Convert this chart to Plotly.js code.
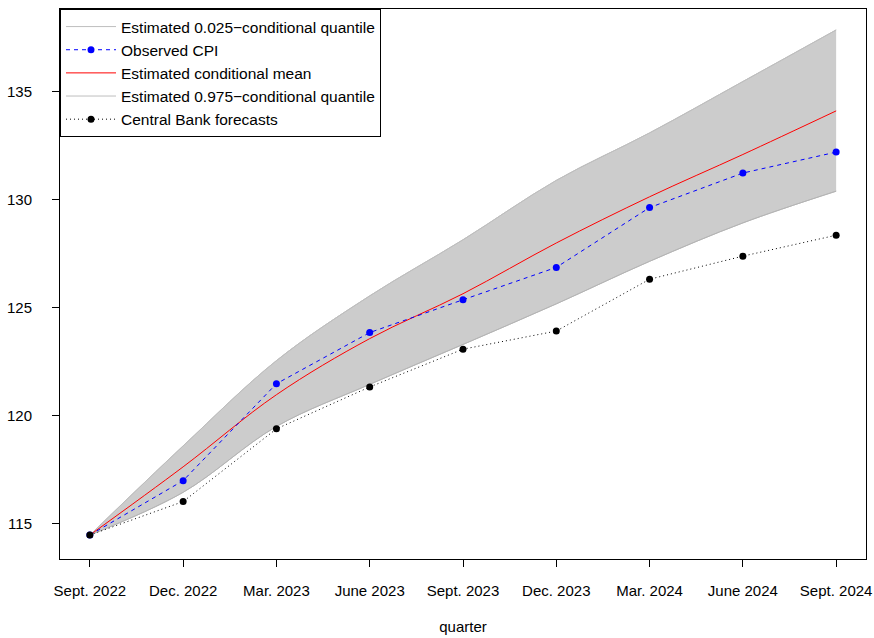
<!DOCTYPE html>
<html>
<head>
<meta charset="utf-8">
<script src="https://cdn.plot.ly/plotly-3.0.1.min.js"></script>
<style>html,body{margin:0;padding:0;background:#fff;}#chart{width:874px;height:638px;}</style>
</head>
<body>
<div id="chart"></div>
<script>
var quarters = ["Sept. 2022","Dec. 2022","Mar. 2023","June 2023","Sept. 2023","Dec. 2023","Mar. 2024","June 2024","Sept. 2024"];
var observedCPI = [114.47,116.99,121.48,123.85,125.37,126.87,129.64,131.24,132.21];
var condMean    = [114.47,117.63,120.97,123.57,125.65,128.0,130.14,132.1,134.12];
var q025        = [114.47,116.45,119.5,121.45,123.3,125.18,127.15,128.93,130.4];
var q975        = [114.47,118.6,122.55,125.55,128.15,130.9,133.1,135.48,137.87];
var cbForecast  = [114.47,116.02,119.39,121.33,123.08,123.92,126.32,127.39,128.36];

var font = "Liberation Sans, Arial, Helvetica, sans-serif";
var traces = [
  {x: quarters, y: q025, type: "scatter", mode: "lines", name: "Estimated 0.025\u2212conditional quantile",
   line: {color: "#BEBEBE", width: 1, shape: "spline"}, legendrank: 1},
  {x: quarters, y: q975, type: "scatter", mode: "lines", name: "band",
   line: {color: "#BEBEBE", width: 1, shape: "spline"}, fill: "tonexty", fillcolor: "#CCCCCC", showlegend: false},
  {x: quarters, y: q975, type: "scatter", mode: "lines", name: "Estimated 0.975\u2212conditional quantile",
   line: {color: "#BEBEBE", width: 1, shape: "spline"}, legendrank: 4},
  {x: quarters, y: q025, type: "scatter", mode: "lines", name: "lower edge",
   line: {color: "#B4B4B4", width: 1, shape: "spline"}, showlegend: false},
  {x: quarters, y: condMean, type: "scatter", mode: "lines", name: "Estimated conditional mean",
   line: {color: "red", width: 1, shape: "spline"}, legendrank: 3},
  {x: quarters, y: observedCPI, type: "scatter", mode: "lines+markers", name: "Observed CPI",
   line: {color: "blue", width: 1, dash: "4px,4px"}, marker: {color: "blue", size: 7}, legendrank: 2},
  {x: quarters, y: cbForecast, type: "scatter", mode: "lines+markers", name: "Central Bank forecasts",
   line: {color: "black", width: 1, dash: "1px,3px"}, marker: {color: "black", size: 7}, legendrank: 5}
];

var layout = {
  width: 874, height: 638,
  margin: {l: 60, r: 8, t: 9, b: 79},
  paper_bgcolor: "#fff", plot_bgcolor: "#fff",
  font: {family: font, size: 15, color: "#000"},
  showlegend: true,
  legend: {x: 0, y: 1, xanchor: "left", yanchor: "top", bgcolor: "#fff", bordercolor: "#000", borderwidth: 1,
           font: {family: font, size: 15.5}, traceorder: "normal", tracegroupgap: 0, itemwidth: 50},
  xaxis: {type: "category", categoryorder: "array", categoryarray: quarters,
          range: [-0.32, 8.32], showgrid: false, zeroline: false,
          showline: true, mirror: true, linecolor: "#000", linewidth: 1,
          ticks: "outside", ticklen: 7, tickcolor: "#000", tickwidth: 1,
          tickfont: {family: font, size: 15}, ticklabelstandoff: 11,
          title: {text: "quarter", font: {family: font, size: 15}, standoff: 23}},
  yaxis: {range: [113.36, 138.84], tickvals: [115,120,125,130,135], showgrid: false, zeroline: false,
          showline: true, mirror: true, linecolor: "#000", linewidth: 1,
          ticks: "outside", ticklen: 7, tickcolor: "#000", tickwidth: 1,
          tickfont: {family: font, size: 15}, ticklabelstandoff: 17}
};
Plotly.newPlot("chart", traces, layout, {displayModeBar: false, staticPlot: true});
</script>
</body>
</html>
